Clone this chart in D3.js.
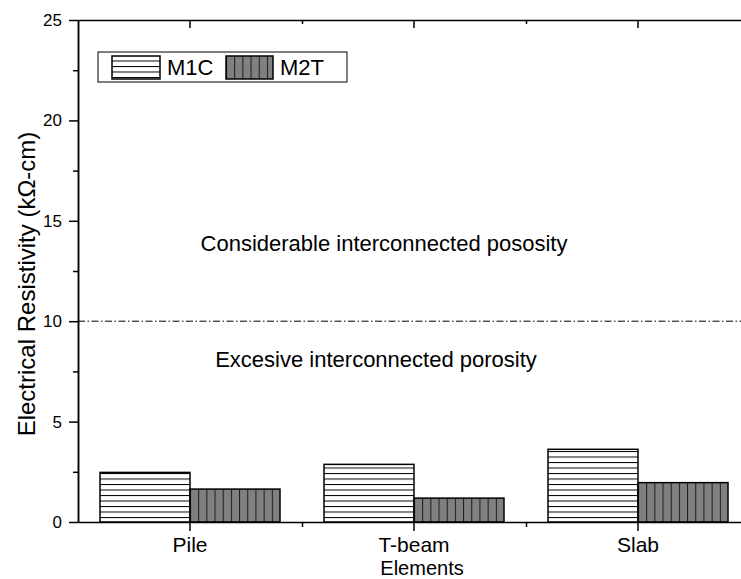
<!DOCTYPE html>
<meta charset="utf-8">
<script src="https://d3js.org/d3.v7.min.js"></script>
<style>
  body { margin: 0; background: #fff; }
  text { font-family: "Liberation Sans", Arial, sans-serif; fill: #000; }
</style>
<div id="chart"></div>
<script>
  // data
  const elements = ["Pile", "T-beam", "Slab"];
  const series = ["M1C", "M2T"];
  const m1c = [2.47, 2.87, 3.62];
  const m2t = [1.64, 1.19, 1.96];
  const yTicks = [0, 5, 10, 15, 20, 25];
  const threshold = 10;

  const W = 741, H = 579;
  const mLeft = 78, mTop = 20, mBottom = 522, mRight = 750;

  const svg = d3.select("#chart").append("svg")
    .attr("width", W).attr("height", H);

  const x = d3.scaleBand().domain(elements).range([mLeft, mRight]);
  const bw = x.bandwidth();
  const x1 = d3.scaleBand().domain(series).range([bw / 2 - 90, bw / 2 + 90]);
  const y = d3.scaleLinear().domain([0, 25]).range([mBottom, mTop]);

  const defs = svg.append("defs");
  // horizontal hatch for M1C
  const hp = defs.append("pattern").attr("id", "hhatch")
    .attr("patternUnits", "userSpaceOnUse")
    .attr("width", 10).attr("height", 5.5);
  hp.append("rect").attr("width", 10).attr("height", 5.5).attr("fill", "#fff");
  hp.append("line").attr("x1", 0).attr("x2", 10).attr("y1", 0.5).attr("y2", 0.5)
    .attr("stroke", "#000").attr("stroke-width", 1);

  // vertical hatch for M2T, one per bar so lines start at the bar edge
  function vpattern(id, x0) {
    const p = defs.append("pattern").attr("id", id)
      .attr("patternUnits", "userSpaceOnUse")
      .attr("x", x0).attr("y", 0)
      .attr("width", 90 / 11).attr("height", 10);
    p.append("rect").attr("width", 90 / 11).attr("height", 10).attr("fill", "#808080");
    p.append("line").attr("x1", 0.5).attr("x2", 0.5).attr("y1", 0).attr("y2", 10)
      .attr("stroke", "#1a1a1a").attr("stroke-width", 1);
  }
  elements.forEach((e, i) => vpattern("vh" + i, x(e) + x1("M2T")));
  vpattern("vhleg", 226);

  // threshold line
  svg.append("line")
    .attr("x1", mLeft).attr("x2", mRight)
    .attr("y1", y(threshold)).attr("y2", y(threshold))
    .attr("stroke", "#000").attr("stroke-width", 1)
    .attr("stroke-dasharray", "7,2.5,1.5,2.5");

  // bars
  const g = svg.append("g");
  g.selectAll(".m1c").data(elements).join("rect")
    .attr("x", d => x(d) + x1("M1C"))
    .attr("width", x1.bandwidth())
    .attr("y", (d, i) => y(m1c[i]))
    .attr("height", (d, i) => y(0) - y(m1c[i]))
    .attr("fill", "url(#hhatch)")
    .attr("stroke", "#000").attr("stroke-width", 1.5);
  g.selectAll(".m2t").data(elements).join("rect")
    .attr("x", d => x(d) + x1("M2T"))
    .attr("width", x1.bandwidth())
    .attr("y", (d, i) => y(m2t[i]))
    .attr("height", (d, i) => y(0) - y(m2t[i]))
    .attr("fill", (d, i) => "url(#vh" + i + ")")
    .attr("stroke", "#000").attr("stroke-width", 1.5);

  // axes
  const yAxis = svg.append("g").attr("transform", `translate(${mLeft},0)`)
    .call(d3.axisLeft(y).tickValues(yTicks).tickSize(9).tickPadding(7).tickSizeOuter(0));
  yAxis.selectAll("text").style("font-size", "17px");
  svg.append("g").attr("transform", `translate(${mLeft},0)`)
    .call(d3.axisLeft(y).tickValues(yTicks.slice(0, -1).map(v => v + 2.5)).tickSize(5).tickFormat("").tickSizeOuter(0));

  const mids = elements.slice(0, -1).map(e => x(e) + bw);
  const xAxis = svg.append("g").attr("transform", `translate(0,${mBottom})`)
    .call(d3.axisBottom(x).tickSize(9).tickPadding(6).tickSizeOuter(0));
  xAxis.selectAll("text").style("font-size", "21px");
  const xMinor = d3.scaleLinear().domain([0, W]).range([0, W]);
  svg.append("g").attr("transform", `translate(0,${mBottom})`)
    .call(d3.axisBottom(xMinor).tickValues(mids).tickSize(5).tickFormat("").tickSizeOuter(0))
    .select(".domain").remove();
  // top mirror axis, ticks inward
  svg.append("g").attr("transform", `translate(0,${mTop})`)
    .call(d3.axisBottom(x).tickSize(8).tickFormat("").tickSizeOuter(0));
  svg.append("g").attr("transform", `translate(0,${mTop})`)
    .call(d3.axisBottom(xMinor).tickValues(mids).tickSize(4).tickFormat("").tickSizeOuter(0))
    .select(".domain").remove();
  svg.selectAll(".domain").attr("stroke-width", 1.5);
  svg.selectAll(".tick line").attr("stroke-width", 1.5);

  // axis titles
  svg.append("text")
    .attr("transform", "translate(35,284) rotate(-90)")
    .attr("text-anchor", "middle")
    .style("font-size", "24px")
    .text("Electrical Resistivity (kΩ-cm)");
  svg.append("text")
    .attr("x", 422).attr("y", 575)
    .attr("text-anchor", "middle")
    .style("font-size", "20px")
    .text("Elements");

  // zone labels
  svg.append("text")
    .attr("x", 384).attr("y", y(13.5))
    .attr("text-anchor", "middle")
    .style("font-size", "22px")
    .text("Considerable interconnected pososity");
  svg.append("text")
    .attr("x", 376).attr("y", y(7.7))
    .attr("text-anchor", "middle")
    .style("font-size", "22px")
    .text("Excesive interconnected porosity");

  // legend
  const leg = svg.append("g");
  leg.append("rect").attr("x", 98).attr("y", 52).attr("width", 249).attr("height", 30)
    .attr("fill", "#fff").attr("stroke", "#000").attr("stroke-width", 1);
  const legItems = [
    { name: series[0], x: 112, w: 48, fill: "url(#hhatch)" },
    { name: series[1], x: 226, w: 47, fill: "url(#vhleg)" }
  ];
  legItems.forEach(d => {
    leg.append("rect").attr("x", d.x).attr("y", 56).attr("width", d.w).attr("height", 23)
      .attr("fill", d.fill).attr("stroke", "#000").attr("stroke-width", 1.5);
    leg.append("text").attr("x", d.x + d.w + 7).attr("y", 75)
      .style("font-size", "22px").text(d.name);
  });
</script>
